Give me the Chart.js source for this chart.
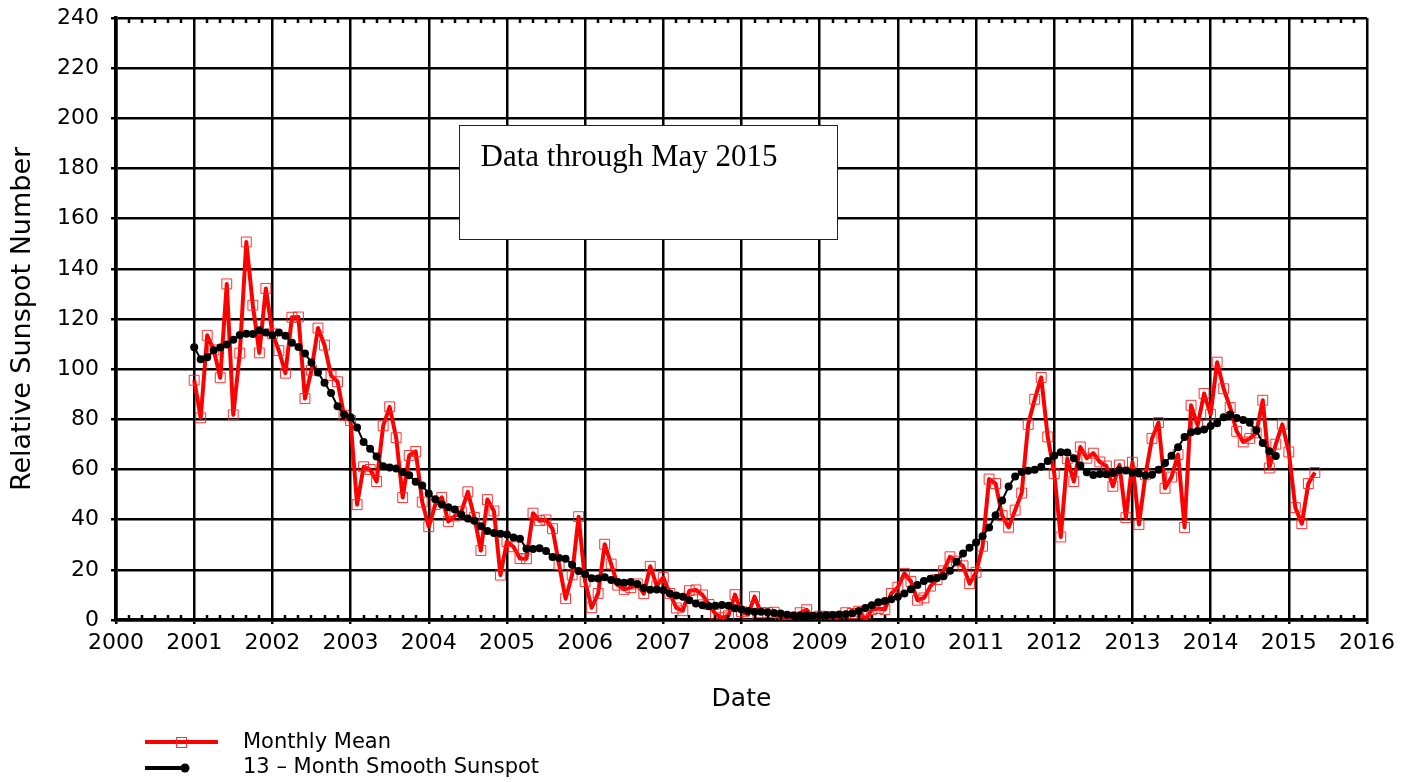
<!DOCTYPE html>
<html>
<head>
<meta charset="utf-8">
<title>Sunspot Number</title>
<script src="https://cdn.jsdelivr.net/npm/chart.js@4"></script>
<style>
    body { margin: 0; background: #fff; }
    #wrap { width: 1418px; height: 782px; }
</style>
</head>
<body>
<div id="wrap"><canvas id="grafico" width="1418" height="782"></canvas></div>
<script>
// monthly mean sunspot number, Jan 2001 .. May 2015
const monthlyMean = [
    95.6, 80.6, 113.5, 107.7, 96.6, 134.0, 81.8, 106.4, 150.7, 125.5, 106.5, 132.2,
    114.1, 107.4, 98.4, 120.7, 120.8, 88.3, 99.6, 116.4, 109.6, 97.5, 95.0, 81.6,
    79.5, 46.0, 61.1, 60.0, 55.2, 77.4, 85.0, 72.7, 48.8, 65.6, 67.2, 47.0,
    37.2, 46.0, 48.9, 39.3, 41.5, 43.2, 51.1, 40.9, 27.7, 48.0, 43.5, 17.9,
    31.3, 29.2, 24.5, 24.4, 42.6, 39.6, 39.9, 36.4, 22.1, 8.5, 18.0, 41.2,
    15.3, 4.9, 10.6, 30.2, 22.3, 13.9, 12.2, 12.9, 14.4, 10.5, 21.4, 13.6,
    16.9, 10.6, 4.8, 3.7, 11.7, 12.0, 10.0, 6.2, 2.4, 0.9, 1.7, 10.1,
    3.3, 2.1, 9.3, 2.9, 2.9, 3.1, 0.5, 0.5, 1.1, 2.9, 4.1, 0.8,
    1.5, 1.4, 0.7, 1.2, 2.9, 2.6, 3.5, 0.0, 4.2, 4.6, 4.2, 10.6,
    13.1, 18.6, 15.4, 7.9, 8.8, 13.5, 16.1, 19.6, 25.2, 23.5, 21.6, 14.5,
    19.0, 29.4, 56.2, 54.4, 41.6, 37.0, 43.8, 50.6, 78.0, 88.0, 96.7, 73.0,
    58.3, 33.1, 64.3, 55.2, 69.0, 64.5, 66.5, 63.0, 61.4, 53.3, 61.8, 40.8,
    62.9, 38.1, 57.9, 72.4, 78.7, 52.5, 57.0, 66.0, 36.9, 85.6, 77.6, 90.3,
    82.0, 102.8, 92.2, 84.7, 75.2, 71.0, 72.4, 74.6, 87.6, 60.6, 70.1, 78.0,
    67.0, 44.8, 38.4, 54.4, 58.8
];

// 13-month smoothed, Jan 2001 .. Nov 2014
const smoothed = [
    108.7, 104.0, 104.8, 107.5, 108.6, 109.8, 111.7, 113.6, 114.1, 114.0, 115.5, 114.6,
    113.5, 114.6, 113.3, 110.5, 108.8, 106.2, 102.7, 98.7, 94.6, 90.5, 85.2, 81.9,
    80.8, 76.7, 71.0, 68.3, 65.2, 61.3, 60.8, 60.4, 58.9, 57.7, 55.1, 53.6,
    50.4, 48.1, 46.0, 45.0, 44.1, 42.1, 40.5, 39.6, 37.4, 35.5, 34.7, 34.4,
    34.1, 32.9, 32.4, 28.4, 28.3, 28.6, 27.5, 25.1, 24.7, 24.4, 22.0, 19.5,
    18.2, 16.6, 16.5, 17.0, 15.9, 15.1, 14.9, 15.1, 14.4, 12.8, 12.1, 12.2,
    11.9, 10.6, 9.8, 9.3, 7.9, 6.6, 5.9, 5.5, 5.7, 6.0, 5.7, 4.7,
    4.2, 3.6, 3.3, 3.3, 3.1, 2.8, 2.6, 2.1, 1.8, 1.7, 1.8, 1.7,
    1.8, 1.9, 2.0, 2.2, 2.3, 2.7, 3.6, 4.8, 5.9, 7.1, 7.6, 8.3,
    9.3, 10.6, 12.3, 14.0, 15.5, 16.4, 16.7, 17.4, 19.6, 23.2, 26.5, 28.8,
    30.9, 33.4, 36.9, 41.8, 47.6, 53.2, 57.2, 59.0, 59.5, 59.9, 61.1, 63.4,
    65.5, 66.9, 66.8, 64.5, 61.6, 58.9, 57.8, 58.2, 58.1, 58.6, 59.7, 59.6,
    58.7, 58.4, 57.6, 57.9, 59.9, 62.6, 65.5, 68.9, 73.0, 74.9, 75.3, 75.9,
    77.3, 78.4, 80.8, 81.9, 80.5, 79.7, 78.6, 75.6, 70.6, 67.3, 65.4
];

const startYear = 2001;
const xMin = 2000, xMax = 2016;
const yMin = 0, yMax = 240;
const noteText = 'Data through May 2015';
const noteBox = { x0: 2004.39, x1: 2009.22, y0: 197.3, y1: 151.9 };

function toPoints(values) {
    return values.map((v, i) => ({ x: startYear + i / 12, y: v }));
}

Chart.defaults.color = '#000';
Chart.defaults.font.family = '"DejaVu Sans", sans-serif';

// small ticks every two months on top and bottom frame
const minorTicks = {
    id: 'minorTicks',
    afterDraw(chart) {
        const { ctx, chartArea } = chart;
        const x = chart.scales.x;
        ctx.save();
        ctx.strokeStyle = '#000';
        ctx.lineWidth = 2.5;
        ctx.beginPath();
        for (let yr = xMin; yr < xMax; yr++) {
            for (let k = 1; k < 6; k++) {
                const px = Math.round(x.getPixelForValue(yr + k / 6));
                ctx.moveTo(px, chartArea.bottom);
                ctx.lineTo(px, chartArea.bottom - 5);
                ctx.moveTo(px, chartArea.top);
                ctx.lineTo(px, chartArea.top + 5);
            }
        }
        ctx.stroke();
        ctx.restore();
    }
};

// white text box
const noteBoxPlugin = {
    id: 'noteBox',
    afterDraw(chart) {
        const { ctx } = chart;
        const sx = chart.scales.x, sy = chart.scales.y;
        const x0 = Math.round(sx.getPixelForValue(noteBox.x0)) + 0.5;
        const x1 = Math.round(sx.getPixelForValue(noteBox.x1)) + 0.5;
        const y0 = Math.round(sy.getPixelForValue(noteBox.y0)) + 0.5;
        const y1 = Math.round(sy.getPixelForValue(noteBox.y1)) + 0.5;
        ctx.save();
        ctx.fillStyle = '#fff';
        ctx.fillRect(x0, y0, x1 - x0, y1 - y0);
        ctx.strokeStyle = '#222';
        ctx.lineWidth = 1;
        ctx.strokeRect(x0, y0, x1 - x0, y1 - y0);
        ctx.fillStyle = '#000';
        ctx.font = '31px "Liberation Serif", serif';
        ctx.textBaseline = 'alphabetic';
        ctx.fillText(noteText, x0 + 21, y0 + 40);
        ctx.restore();
    }
};

// legend below the plot
const bottomLegend = {
    id: 'bottomLegend',
    afterDraw(chart) {
        const { ctx } = chart;
        const ds = chart.data.datasets;
        const red = ds[1], black = ds[0];
        ctx.save();
        ctx.font = '21px "DejaVu Sans", sans-serif';
        ctx.textBaseline = 'middle';
        ctx.lineCap = 'butt';

        ctx.strokeStyle = red.borderColor;
        ctx.lineWidth = 4;
        ctx.beginPath(); ctx.moveTo(145, 742); ctx.lineTo(218, 742); ctx.stroke();
        ctx.lineWidth = 1;
        ctx.strokeStyle = red.pointBorderColor;
        ctx.strokeRect(176.5, 737.5, 10, 10);
        ctx.fillStyle = '#000';
        ctx.fillText(red.label, 243, 743);

        ctx.strokeStyle = '#000';
        ctx.lineWidth = 4;
        ctx.beginPath(); ctx.moveTo(145, 768); ctx.lineTo(184, 768); ctx.stroke();
        ctx.beginPath(); ctx.arc(185, 768, 4.5, 0, Math.PI * 2); ctx.fill();
        ctx.fillText(black.label, 243, 768);
        ctx.restore();
    }
};

const ctx = document.getElementById('grafico').getContext('2d');
const chart = new Chart(ctx, {
    type: 'line',
    data: {
        datasets: [{
            label: '13 – Month Smooth Sunspot',
            data: toPoints(smoothed),
            borderColor: '#000',
            borderWidth: 2,
            pointRadius: 4,
            pointBackgroundColor: '#000',
            pointBorderWidth: 0,
            tension: 0,
        }, {
            label: 'Monthly Mean',
            data: toPoints(monthlyMean),
            borderColor: 'rgb(255, 0, 0)',
            borderWidth: 4,
            borderJoinStyle: 'round',
            pointStyle: 'rect',
            pointRadius: 7,
            pointBorderWidth: 1,
            pointBorderColor: 'rgba(255, 30, 30, 0.9)',
            pointBackgroundColor: 'rgba(0, 0, 0, 0)',
            tension: 0,
        }],
    },
    options: {
        responsive: false,
        animation: false,
        events: [],
        layout: { padding: { left: 0, right: 51, top: 18, bottom: 60 } },
        scales: {
            x: {
                type: 'linear',
                min: xMin,
                max: xMax,
                afterFit: scale => {
                    scale.height = 102;
                    scale.paddingLeft = 0; scale.paddingRight = 0;
                },
                grid: { color: '#000', lineWidth: 2.5, tickLength: 4 },
                border: { color: '#000', width: 3.5 },
                ticks: { stepSize: 1, padding: 6, maxRotation: 0, autoSkip: false,
                         font: { size: 22 }, callback: value => value.toString() },
                title: { display: true, text: 'Date', font: { size: 25 }, padding: { top: 8, bottom: 8 } },
            },
            y: {
                type: 'linear',
                min: yMin,
                max: yMax,
                afterFit: scale => {
                    scale.width = 116;
                    scale.paddingTop = 0; scale.paddingBottom = 0;
                },
                grid: { color: '#000', lineWidth: 2.5, tickLength: 5 },
                border: { color: '#000', width: 3.5 },
                ticks: { stepSize: 20, padding: 12, font: { size: 22 },
                         callback: value => value.toString() },
                title: { display: true, text: 'Relative Sunspot Number', font: { size: 27 }, padding: { top: 7, bottom: 0 } },
            },
        },
        plugins: { legend: { display: false }, tooltip: { enabled: false } },
    },
    plugins: [minorTicks, noteBoxPlugin, bottomLegend],
});
</script>
</body>
</html>
